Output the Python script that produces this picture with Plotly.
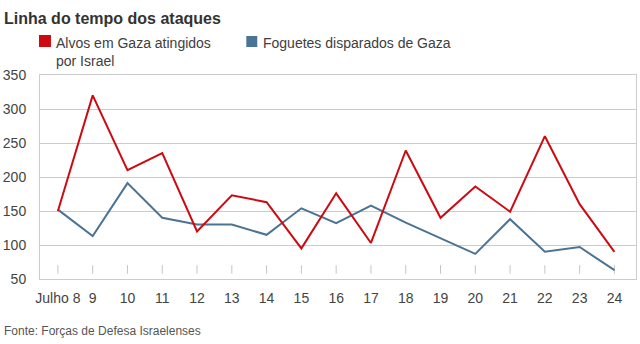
import plotly.graph_objects as go

title_text = "Linha do tempo dos ataques"
source_text = "Fonte: Forças de Defesa Israelenses"
categories = ["Julho 8", "9", "10", "11", "12", "13", "14", "15", "16",
              "17", "18", "19", "20", "21", "22", "23", "24"]
alvos_name = "Alvos em Gaza atingidos<br>por Israel"
alvos = [150, 320, 210, 235, 120, 173, 163, 95, 176, 103, 239, 140, 186, 149, 260, 160, 90]
foguetes_name = "Foguetes disparados de Gaza"
foguetes = [152, 113, 191, 140, 130, 130, 115, 154, 132, 158, 133, 110, 87, 138, 90, 97, 63]
y_ticks = [50, 100, 150, 200, 250, 300, 350]
tick_mark_level = 64

RED = "#cc0a12"
BLUE = "#4a7394"
FONT = "Liberation Sans, Arial, sans-serif"

W, H = 640, 344
ML, MR, MT, MB = 39, 3, 75, 65
pw, ph = W - ML - MR, H - MT - MB

def px(x):
    return (x - ML) / pw

def py(y):
    return (H - MB - y) / ph

xs = list(range(len(categories)))

fig = go.Figure()
fig.add_trace(go.Scatter(
    x=xs, y=[tick_mark_level] * len(xs), mode="markers",
    marker=dict(symbol="line-ns", size=6, line=dict(width=1, color="#c4c4c4")),
    showlegend=False, hoverinfo="skip"))
fig.add_trace(go.Scatter(x=xs, y=foguetes, mode="lines", name=foguetes_name,
                         line=dict(color=BLUE, width=2), showlegend=False))
fig.add_trace(go.Scatter(x=xs, y=alvos, mode="lines", name=alvos_name,
                         line=dict(color=RED, width=2), showlegend=False))

shapes = [
    dict(type="rect", xref="paper", yref="paper", x0=px(38), x1=px(50), y0=py(47), y1=py(35),
         fillcolor=RED, line=dict(width=0)),
    dict(type="rect", xref="paper", yref="paper", x0=px(246), x1=px(257), y0=py(47), y1=py(36),
         fillcolor=BLUE, line=dict(width=0)),
]
annotations = [
    dict(text="<b>" + title_text + "</b>", xref="paper", yref="paper", x=px(1), y=py(18),
         xanchor="left", yanchor="middle", showarrow=False,
         font=dict(family=FONT, size=16, color="#333333")),
    dict(text=alvos_name, xref="paper", yref="paper", x=px(53), y=py(33),
         xanchor="left", yanchor="top", showarrow=False, align="left",
         font=dict(family=FONT, size=14, color="#404040")),
    dict(text=foguetes_name, xref="paper", yref="paper", x=px(261), y=py(33),
         xanchor="left", yanchor="top", showarrow=False, align="left",
         font=dict(family=FONT, size=14, color="#404040")),
    dict(text=source_text, xref="paper", yref="paper", x=px(1), y=py(331),
         xanchor="left", yanchor="middle", showarrow=False,
         font=dict(family=FONT, size=12, color="#555555")),
]

fig.update_layout(
    width=W, height=H,
    margin=dict(l=ML, r=MR, t=MT, b=MB),
    paper_bgcolor="white", plot_bgcolor="white",
    font=dict(family=FONT, size=14, color="#444444"),
    shapes=shapes, annotations=annotations,
    showlegend=False,
)
fig.update_xaxes(
    range=[-0.515, 16.62], tickmode="array", tickvals=xs, ticktext=categories,
    showgrid=False, zeroline=False, showline=True, linecolor="#cccccc", linewidth=1,
    mirror=True, ticks="", ticklabelstandoff=6, tickfont=dict(size=14, color="#444444"),
    fixedrange=True,
)
fig.update_yaxes(
    range=[50, 350], tickmode="array", tickvals=y_ticks,
    showgrid=True, gridcolor="#cccccc", gridwidth=1, zeroline=False,
    showline=True, linecolor="#cccccc", linewidth=1, mirror=True,
    ticks="", ticklabelstandoff=10, tickfont=dict(size=14, color="#444444"),
    fixedrange=True,
)

fig.write_html("out.html")
